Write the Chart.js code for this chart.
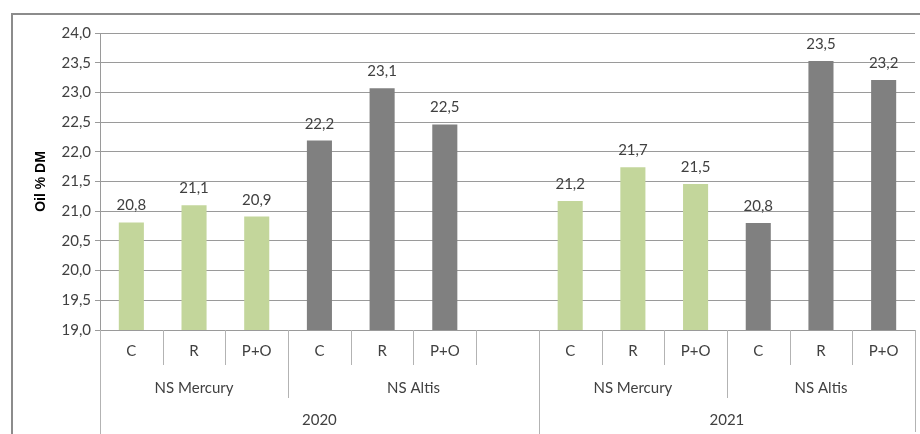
<!DOCTYPE html>
<html>
<head>
<meta charset="utf-8">
<script src="https://cdn.jsdelivr.net/npm/chart.js@4/dist/chart.umd.min.js"></script>
<style>
  html, body { margin: 0; padding: 0; background: #fff; }
  #wrap { width: 920px; height: 434px; }
</style>
</head>
<body>
<div id="wrap"><canvas id="chart"></canvas></div>
<script>
const treatments = ["C", "R", "P+O", "C", "R", "P+O", "", "C", "R", "P+O", "C", "R", "P+O"];
const varieties = ["NS Mercury", "NS Mercury", "NS Mercury", "NS Altis", "NS Altis", "NS Altis", "NS Altis",
                   "NS Mercury", "NS Mercury", "NS Mercury", "NS Altis", "NS Altis", "NS Altis"];
const years = ["2020", "2020", "2020", "2020", "2020", "2020", "2020", "2021", "2021", "2021", "2021", "2021", "2021"];
const oilValues = [20.81, 21.1, 20.91, 22.19, 23.07, 22.46, null, 21.17, 21.74, 21.46, 20.8, 23.53, 23.21];

const colors = { "NS Mercury": "#C3D69B", "NS Altis": "#808080" };
const fmt = v => v.toFixed(1).replace(".", ",");
const textFont = "15px Lato";
const textColor = "#404040";
const sepColor = "#b3b3b3";

const multiAxis = {
  id: "multiAxis",
  beforeDraw(chart) {
    const ctx = chart.ctx;
    ctx.save();
    ctx.strokeStyle = "#8c8c8c";
    ctx.lineWidth = 2;
    ctx.strokeRect(12, 14, 1000, 1000);
    ctx.restore();
  },
  afterDraw(chart) {
    const ctx = chart.ctx;
    const x = chart.scales.x;
    const area = chart.chartArea;
    const bottom = area.bottom;
    const n = treatments.length;
    ctx.save();
    ctx.font = textFont;
    ctx.fillStyle = textColor;
    ctx.textAlign = "center";
    ctx.textBaseline = "middle";

    // treatment labels
    treatments.forEach((t, i) => {
      ctx.fillText(t, x.getPixelForValue(i), bottom + 21);
    });

    // separators
    ctx.strokeStyle = sepColor;
    ctx.lineWidth = 1;
    const line = (px, len) => {
      ctx.beginPath();
      ctx.moveTo(Math.round(px) + 0.5, bottom);
      ctx.lineTo(Math.round(px) + 0.5, bottom + len);
      ctx.stroke();
    };
    line(area.left, 104);
    line(area.right, 102);
    for (let i = 1; i < n; i++) {
      const px = (x.getPixelForValue(i - 1) + x.getPixelForValue(i)) / 2;
      if (years[i] !== years[i - 1]) line(px, 104);
      else if (varieties[i] !== varieties[i - 1]) line(px, 68);
      else line(px, 35);
    }

    // group and year labels
    const edge = i => i === 0 ? area.left : i === n ? area.right
      : (x.getPixelForValue(i - 1) + x.getPixelForValue(i)) / 2;
    let start = 0;
    for (let i = 1; i <= n; i++) {
      if (i === n || varieties[i] !== varieties[start] || years[i] !== years[start]) {
        ctx.fillText(varieties[start], (edge(start) + edge(i)) / 2, bottom + 58);
        start = i;
      }
    }
    start = 0;
    for (let i = 1; i <= n; i++) {
      if (i === n || years[i] !== years[start]) {
        ctx.fillText(years[start], (edge(start) + edge(i)) / 2, bottom + 90);
        start = i;
      }
    }

    // value labels
    ctx.textBaseline = "alphabetic";
    const meta = chart.getDatasetMeta(0);
    meta.data.forEach((bar, i) => {
      if (oilValues[i] == null) return;
      ctx.fillText(fmt(oilValues[i]), bar.x, bar.y - 12);
    });
    ctx.restore();
  }
};

new Chart(document.getElementById("chart"), {
  type: "bar",
  data: {
    labels: treatments.map((t, i) => t || " " + i),
    datasets: [{
      data: oilValues,
      backgroundColor: varieties.map(v => colors[v]),
      barPercentage: 0.4,
      categoryPercentage: 1
    }]
  },
  options: {
    responsive: true,
    maintainAspectRatio: false,
    animation: false,
    layout: { padding: { top: 33, right: 5, left: 20, bottom: 0 } },
    plugins: { legend: { display: false }, tooltip: { enabled: false } },
    scales: {
      x: {
        ticks: { display: false },
        grid: { display: false },
        border: { display: false },
        afterFit: s => { s.height = 104; }
      },
      y: {
        min: 19,
        max: 24,
        ticks: {
          stepSize: 0.5,
          color: textColor,
          font: { family: "Lato", size: 15 },
          padding: 4,
          callback: v => fmt(v)
        },
        grid: { color: "#9a9a9a", tickLength: 5 },
        border: { color: "#9a9a9a" },
        title: {
          display: true,
          text: "Oil % DM",
          color: "#000",
          font: { family: "Liberation Sans", size: 14, weight: "bold" },
          padding: { top: 13, bottom: 0 }
        },
        afterFit: s => { s.width = 80; }
      }
    }
  },
  plugins: [multiAxis]
});
</script>
</body>
</html>
